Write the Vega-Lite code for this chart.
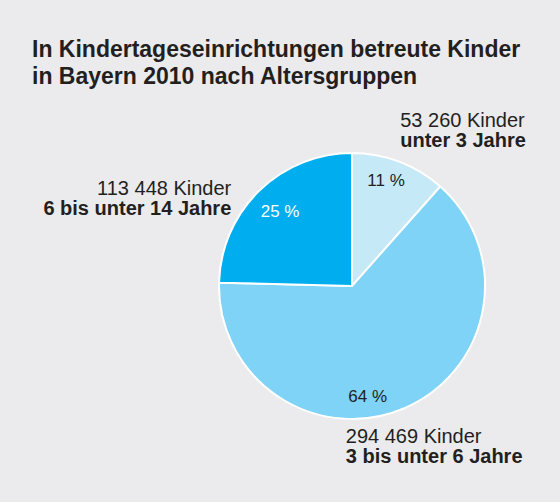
{
  "$schema": "https://vega.github.io/schema/vega-lite/v6.json",
  "width": 266,
  "height": 266,
  "autosize": {"type": "none"},
  "padding": {"left": 219, "top": 153, "right": 75, "bottom": 83},
  "background": "#ebebed",
  "title": {
    "text": ["In Kindertageseinrichtungen betreute Kinder", "in Bayern 2010 nach Altersgruppen"],
    "anchor": "start",
    "frame": "group",
    "dx": -187,
    "offset": 22,
    "font": "Liberation Sans",
    "fontSize": 23,
    "fontWeight": "bold",
    "lineHeight": 27,
    "color": "#231f20"
  },
  "data": {
    "values": [
      {"gruppe": "unter 3 Jahre", "kinder": 53260, "anzahl": "53 260 Kinder", "anteil": "11 %", "o": 1},
      {"gruppe": "3 bis unter 6 Jahre", "kinder": 294469, "anzahl": "294 469 Kinder", "anteil": "64 %", "o": 2},
      {"gruppe": "6 bis unter 14 Jahre", "kinder": 113448, "anzahl": "113 448 Kinder", "anteil": "25 %", "o": 3}
    ]
  },
  "encoding": {
    "theta": {"field": "kinder", "type": "quantitative", "stack": true},
    "order": {"field": "o", "type": "quantitative"}
  },
  "layer": [
    {
      "mark": {"type": "arc", "stroke": "white", "strokeWidth": 2},
      "encoding": {
        "color": {
          "field": "gruppe",
          "type": "nominal",
          "scale": {
            "domain": ["unter 3 Jahre", "3 bis unter 6 Jahre", "6 bis unter 14 Jahre"],
            "range": ["#c6e9f8", "#7ed3f6", "#00aeef"]
          },
          "legend": null
        }
      }
    },
    {
      "mark": {"type": "text", "radius": 110, "dx": -5, "dy": -2, "font": "Liberation Sans", "fontSize": 17, "color": "#231f20"},
      "encoding": {"text": {"condition": {"test": "datum.gruppe === 'unter 3 Jahre'", "field": "anteil"}, "value": ""}}
    },
    {
      "mark": {"type": "text", "radius": 103, "font": "Liberation Sans", "fontSize": 17, "color": "white"},
      "encoding": {"text": {"condition": {"test": "datum.gruppe === '6 bis unter 14 Jahre'", "field": "anteil"}, "value": ""}}
    },
    {
      "mark": {"type": "text", "radius": 112, "dx": -29, "dy": 8, "font": "Liberation Sans", "fontSize": 17, "color": "#231f20"},
      "encoding": {"text": {"condition": {"test": "datum.gruppe === '3 bis unter 6 Jahre'", "field": "anteil"}, "value": ""}}
    },
    {
      "mark": {"type": "text", "radius": 150, "dx": -5, "dy": -19, "align": "left", "baseline": "alphabetic", "font": "Liberation Sans", "fontSize": 20, "color": "#231f20"},
      "encoding": {"text": {"condition": {"test": "datum.gruppe === 'unter 3 Jahre'", "field": "anzahl"}, "value": ""}}
    },
    {
      "mark": {"type": "text", "radius": 150, "dx": -5, "dy": 1, "align": "left", "baseline": "alphabetic", "font": "Liberation Sans", "fontSize": 20, "fontWeight": "bold", "color": "#231f20"},
      "encoding": {"text": {"condition": {"test": "datum.gruppe === 'unter 3 Jahre'", "field": "gruppe"}, "value": ""}}
    },
    {
      "mark": {"type": "text", "radius": 150, "dx": -16, "dy": 16, "align": "right", "baseline": "alphabetic", "font": "Liberation Sans", "fontSize": 20, "color": "#231f20"},
      "encoding": {"text": {"condition": {"test": "datum.gruppe === '6 bis unter 14 Jahre'", "field": "anzahl"}, "value": ""}}
    },
    {
      "mark": {"type": "text", "radius": 150, "dx": -16, "dy": 36, "align": "right", "baseline": "alphabetic", "font": "Liberation Sans", "fontSize": 20, "fontWeight": "bold", "color": "#231f20"},
      "encoding": {"text": {"condition": {"test": "datum.gruppe === '6 bis unter 14 Jahre'", "field": "gruppe"}, "value": ""}}
    },
    {
      "mark": {"type": "text", "radius": 150, "dx": -66, "dy": 19, "align": "left", "baseline": "alphabetic", "font": "Liberation Sans", "fontSize": 20, "color": "#231f20"},
      "encoding": {"text": {"condition": {"test": "datum.gruppe === '3 bis unter 6 Jahre'", "field": "anzahl"}, "value": ""}}
    },
    {
      "mark": {"type": "text", "radius": 150, "dx": -66, "dy": 39, "align": "left", "baseline": "alphabetic", "font": "Liberation Sans", "fontSize": 20, "fontWeight": "bold", "color": "#231f20"},
      "encoding": {"text": {"condition": {"test": "datum.gruppe === '3 bis unter 6 Jahre'", "field": "gruppe"}, "value": ""}}
    }
  ],
  "config": {"view": {"stroke": null}}
}
